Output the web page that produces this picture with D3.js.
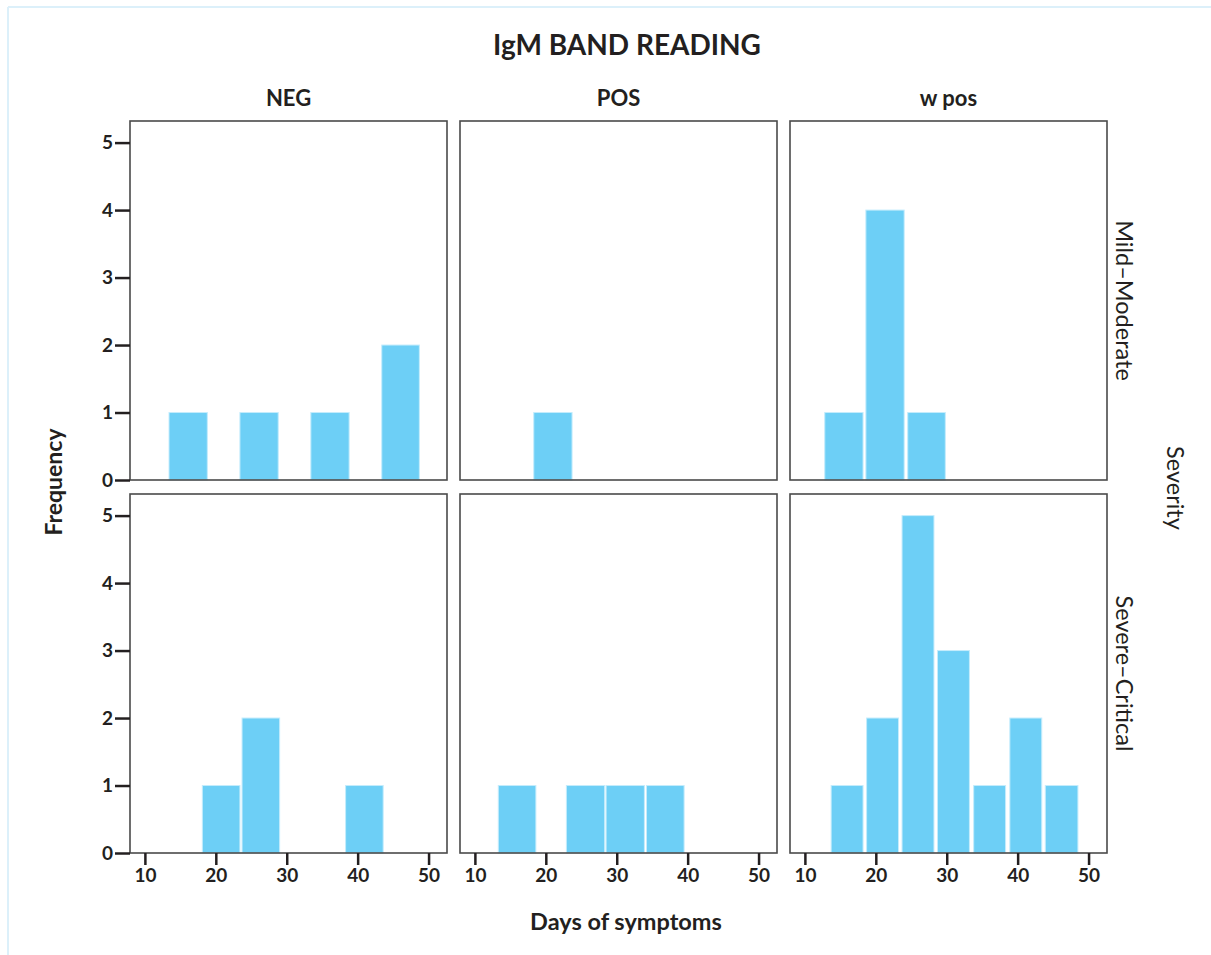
<!DOCTYPE html>
<html>
<head>
<meta charset="utf-8">
<script src="https://cdn.jsdelivr.net/npm/d3@7"></script>
<style>
  html, body { margin: 0; padding: 0; background: #fff; }
  svg { display: block; font-family: Lato, "Open Sans", sans-serif; }
  .tick text { font-family: Lato, sans-serif; font-weight: 700; font-size: 19px; fill: #231f20; }
  .tick line { stroke: #231f20; stroke-width: 2.5; }
  .domain { display: none; }
</style>
</head>
<body>
<svg id="chart" width="1211" height="955"></svg>
<script>
// Faceted histogram: IgM band reading x severity, days of symptoms

const columns = ["NEG", "POS", "w pos"];
const rowLabels = ["Mild\u2013Moderate", "Severe\u2013Critical"];
const xTicks = [10, 20, 30, 40, 50];
const yTicks = [0, 1, 2, 3, 4, 5];

// each bar: [bin start, bin end, frequency]
const negMild = [[13.4, 18.8, 1], [23.4, 28.8, 1], [33.4, 38.8, 1], [43.4, 48.7, 2]];
const posMild = [[18.3, 23.7, 1]];
const wposMild = [[12.8, 18.2, 1], [18.6, 24.0, 4], [24.5, 29.8, 1]];
const negSevere = [[18.1, 23.4, 1], [23.7, 29.0, 2], [38.3, 43.6, 1]];
const posSevere = [[13.3, 18.6, 1], [22.9, 28.3, 1], [28.5, 33.9, 1], [34.2, 39.5, 1]];
const wposSevere = [[13.7, 18.2, 1], [18.7, 23.2, 2], [23.7, 28.2, 5], [28.7, 33.2, 3],
                    [33.8, 38.3, 1], [38.9, 43.4, 2], [43.9, 48.5, 1]];

const panels = [
  [negMild, posMild, wposMild],
  [negSevere, posSevere, wposSevere]
];

const svg = d3.select("#chart");
const ink = "#231f20";
const barColor = "#6dcff6";

const panelW = 317, panelH = 359;
const colLeft = [130, 460, 790];
const rowTop = [121, 494];

const x = d3.scaleLinear().domain([7.9, 52.6]).range([0, panelW]);
const y = d3.scaleLinear().domain([0, 5.32]).range([panelH, 0]);

// thin light-blue page border (top and left)
svg.append("line").attr("x1", 8).attr("x2", 1211).attr("y1", 7).attr("y2", 7)
  .attr("stroke", "#dcf0fa").attr("stroke-width", 2);
svg.append("line").attr("x1", 8).attr("x2", 8).attr("y1", 7).attr("y2", 955)
  .attr("stroke", "#dcf0fa").attr("stroke-width", 2);

svg.append("text")
  .attr("x", 627).attr("y", 55)
  .attr("text-anchor", "middle")
  .attr("font-size", 28).attr("font-weight", 700).attr("fill", ink)
  .text("IgM BAND READING");

columns.forEach((c, i) => {
  svg.append("text")
    .attr("x", colLeft[i] + panelW / 2).attr("y", 106)
    .attr("text-anchor", "middle")
    .attr("font-size", 22).attr("font-weight", 700).attr("fill", ink)
    .text(c);
});

panels.forEach((row, r) => {
  row.forEach((bins, c) => {
    const g = svg.append("g").attr("transform", `translate(${colLeft[c]},${rowTop[r]})`);

    g.selectAll("rect.bar")
      .data(bins)
      .join("rect")
      .attr("class", "bar")
      .attr("x", d => x(d[0]))
      .attr("width", d => x(d[1]) - x(d[0]))
      .attr("y", d => y(d[2]))
      .attr("height", d => y(0) - y(d[2]))
      .attr("fill", barColor)
      .attr("stroke", "#c4ecfc")
      .attr("stroke-width", 1);

    g.append("rect")
      .attr("width", panelW).attr("height", panelH)
      .attr("fill", "none").attr("stroke", "#4a4a4a").attr("stroke-width", 1.6);

    if (c === 0) {
      g.append("g")
        .call(d3.axisLeft(y).tickValues(yTicks).tickSize(15).tickPadding(2).tickFormat(d3.format("d")));
    }
    if (r === 1) {
      g.append("g")
        .attr("transform", `translate(0,${panelH})`)
        .call(d3.axisBottom(x).tickValues(xTicks).tickSize(12).tickPadding(4).tickFormat(d3.format("d")));
    }
  });

  svg.append("text")
    .attr("transform", `translate(${1116},${rowTop[r] + panelH / 2}) rotate(90)`)
    .attr("text-anchor", "middle")
    .attr("font-size", 23.5).attr("fill", ink)
    .text(rowLabels[r]);
});

svg.append("text")
  .attr("transform", "translate(62,482) rotate(-90)")
  .attr("text-anchor", "middle")
  .attr("font-size", 23).attr("font-weight", 700).attr("fill", ink)
  .text("Frequency");

svg.append("text")
  .attr("transform", "translate(1167,488) rotate(90)")
  .attr("text-anchor", "middle")
  .attr("font-size", 23.5).attr("fill", ink)
  .text("Severity");

svg.append("text")
  .attr("x", 626).attr("y", 930)
  .attr("text-anchor", "middle")
  .attr("font-size", 23.5).attr("font-weight", 700).attr("fill", ink)
  .text("Days of symptoms");
</script>
</body>
</html>
